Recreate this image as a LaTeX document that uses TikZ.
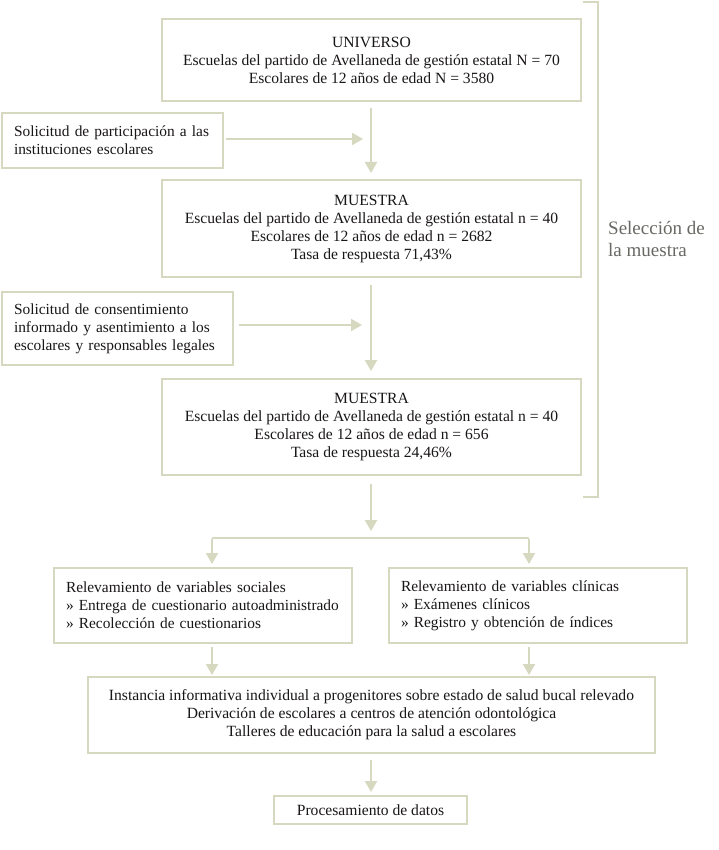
\documentclass[tikz,border=0pt]{standalone}
\usepackage{fontspec}
\setmainfont{Liberation Serif}
\usetikzlibrary{arrows.meta}
\definecolor{lin}{RGB}{214,216,192}
\definecolor{txt}{RGB}{25,22,22}
\definecolor{gtx}{RGB}{105,105,100}
\tikzset{
  box/.style={draw=lin, line width=2pt, rectangle, inner sep=0pt, text=txt,
    font=\fontsize{15.6}{18}\selectfont},
  lbox/.style={box, align=left, inner xsep=12pt, font=\fontsize{15.4}{18}\selectfont},
  arr/.style={draw=lin, line width=2pt, -{Triangle[width=12pt,length=11pt]}},
  ln/.style={draw=lin, line width=2pt},
}
\begin{document}
\begin{tikzpicture}[x=1pt,y=-1pt]
\useasboundingbox (0,0) rectangle (718,850);
\fill[white] (0,0) rectangle (718,850);

\node[box, minimum width=419pt, minimum height=82pt, align=center] (univ) at (371.5,60)
  {UNIVERSO\\Escuelas del partido de Avellaneda de gestión estatal N = 70\\Escolares de 12 años de edad N = 3580};
\node[lbox, minimum width=221pt, minimum height=55pt, text width=197pt] (sol1) at (112.5,140.5)
  {\mbox{Solicitud de participación a las}\\\mbox{instituciones escolares}};
\node[box, minimum width=419pt, minimum height=97pt, align=center] (m1) at (371.5,228.5)
  {MUESTRA\\Escuelas del partido de Avellaneda de gestión estatal n = 40\\Escolares de 12 años de edad n = 2682\\Tasa de respuesta 71,43\%};
\node[lbox, minimum width=231pt, minimum height=73pt, text width=207pt] (sol2) at (117.5,328.5)
  {\mbox{Solicitud de consentimiento}\\\mbox{informado y asentimiento a los}\\\mbox{escolares y responsables legales}};
\node[box, minimum width=419pt, minimum height=96pt, align=center] (m2) at (371.5,427)
  {MUESTRA\\Escuelas del partido de Avellaneda de gestión estatal n = 40\\Escolares de 12 años de edad n = 656\\Tasa de respuesta 24,46\%};
\node[lbox, minimum width=298pt, minimum height=75pt, text width=274pt] (soc) at (203,605.5)
  {\mbox{Relevamiento de variables sociales}\\\mbox{» Entrega de cuestionario autoadministrado}\\\mbox{» Recolección de cuestionarios}};
\node[lbox, minimum width=298pt, minimum height=75pt, text width=274pt] (cli) at (538,605.5)
  {\mbox{Relevamiento de variables clínicas}\\\mbox{» Exámenes clínicos}\\\mbox{» Registro y obtención de índices}};
\node[box, minimum width=567pt, minimum height=76pt, align=center] (big) at (371.5,715)
  {Instancia informativa individual a progenitores sobre estado de salud bucal relevado\\Derivación de escolares a centros de atención odontológica\\Talleres de educación para la salud a escolares};
\node[box, minimum width=193pt, minimum height=28pt, align=center] (proc) at (370.5,810)
  {Procesamiento de datos};

% coordinates
\coordinate (a1s) at (371,108);
\coordinate (a1e) at (371,173);
\coordinate (h1s) at (226,139);
\coordinate (h1e) at (363,139);
\coordinate (a2s) at (371,285);
\coordinate (a2e) at (371,371);
\coordinate (h2s) at (239,325);
\coordinate (h2e) at (362,325);
\coordinate (a3s) at (371,484);
\coordinate (a3e) at (371,531);
\coordinate (sl) at (212,538);
\coordinate (sr) at (529,538);
\coordinate (slt) at (212,564);
\coordinate (srt) at (529,564);
\coordinate (b1s) at (212,647);
\coordinate (b1e) at (212,675);
\coordinate (b2s) at (529,647);
\coordinate (b2e) at (529,675);
\coordinate (a4s) at (371,760);
\coordinate (a4e) at (371,792);

\draw[arr] (a1s) -- (a1e);
\draw[arr] (h1s) -- (h1e);
\draw[arr] (a2s) -- (a2e);
\draw[arr] (h2s) -- (h2e);
\draw[arr] (a3s) -- (a3e);
\draw[ln] (sl) -- (sr);
\draw[arr] ([yshift=-1pt]sl) -- (slt);
\draw[arr] ([yshift=-1pt]sr) -- (srt);
\draw[arr] (b1s) -- (b1e);
\draw[arr] (b2s) -- (b2e);
\draw[arr] (a4s) -- (a4e);

% bracket
\coordinate (bt) at (583,2);
\coordinate (bb) at (583,497);
\draw[ln] (bt) -- (598,2) -- (598,497) -- (bb);
\node[anchor=west, align=left, text=gtx, font=\fontsize{19}{22}\selectfont, inner sep=0pt] (sel) at (608,239)
  {Selección de\\la muestra};
\end{tikzpicture}
\end{document}
